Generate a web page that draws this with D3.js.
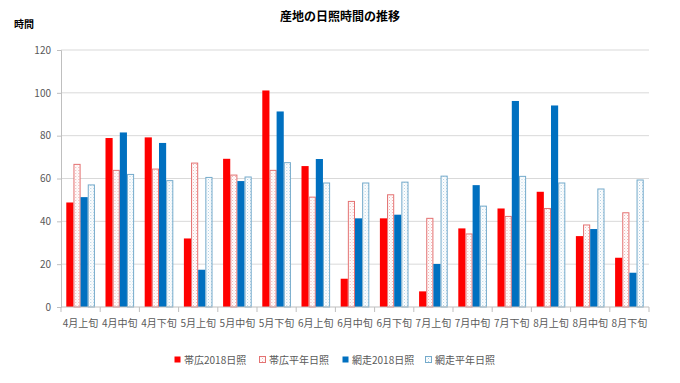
<!DOCTYPE html>
<html>
<head>
<meta charset="utf-8">
<script src="https://cdn.jsdelivr.net/npm/d3@7"></script>
<style>
  body { margin: 0; background: #fff; }
  text { font-family: "Noto Sans CJK JP", "Noto Sans", sans-serif; }
</style>
</head>
<body>
<div id="chart"></div>
<script>
var categories = ["4月上旬", "4月中旬", "4月下旬", "5月上旬", "5月中旬", "5月下旬", "6月上旬", "6月中旬",
    "6月下旬", "7月上旬", "7月中旬", "7月下旬", "8月上旬", "8月中旬", "8月下旬"];
var seriesNames = ["帯広2018日照", "帯広平年日照", "網走2018日照", "網走平年日照"];
var obihiro2018 = [48.8, 78.9, 79.2, 32.0, 69.2, 101.1, 65.8, 13.2, 41.4, 7.3, 36.7, 46.0, 53.8, 33.1, 23.0];
var obihiroAvg = [66.6, 63.8, 64.4, 67.2, 61.6, 63.8, 51.3, 49.3, 52.4, 41.4, 34.1, 42.3, 46.0, 38.3, 44.0];
var abashiri2018 = [51.3, 81.5, 76.6, 17.4, 58.8, 91.3, 69.1, 41.4, 43.1, 20.1, 56.9, 96.2, 94.1, 36.4, 16.0];
var abashiriAvg = [57.0, 61.9, 59.0, 60.5, 60.7, 67.4, 57.9, 57.9, 58.3, 61.1, 47.1, 61.0, 57.9, 55.1, 59.3];
var yTicks = [0, 20, 40, 60, 80, 100, 120];

var margin = {top: 50, right: 31, bottom: 76, left: 61};
var totalW = 680, totalH = 383;
var width = totalW - margin.left - margin.right,
    height = totalH - margin.top - margin.bottom;

var svgRoot = d3.select("#chart").append("svg")
    .attr("width", totalW)
    .attr("height", totalH);

// dotted fills for the average series
var defs = svgRoot.append("defs");
function dotPattern(id, color) {
    var p = defs.append("pattern")
        .attr("id", id)
        .attr("patternUnits", "userSpaceOnUse")
        .attr("width", 3).attr("height", 3);
    p.append("rect").attr("width", 3).attr("height", 3).attr("fill", "#fff");
    p.append("rect").attr("x", 0).attr("y", 0).attr("width", 1).attr("height", 1)
        .attr("fill", color).attr("opacity", 0.55);
    p.append("rect").attr("x", 1.5).attr("y", 1.5).attr("width", 1).attr("height", 1)
        .attr("fill", color).attr("opacity", 0.35);
}
dotPattern("dotRed", "#e07070");
dotPattern("dotBlue", "#6aa8cc");

var styles = [
    {fill: "#ff0000", stroke: "none"},
    {fill: "url(#dotRed)", stroke: "#e47272"},
    {fill: "#0070c0", stroke: "none"},
    {fill: "url(#dotBlue)", stroke: "#74aacb"}
];
var series = [obihiro2018, obihiroAvg, abashiri2018, abashiriAvg];

// title
svgRoot.append("text")
    .attr("x", totalW / 2)
    .attr("y", 21)
    .attr("text-anchor", "middle")
    .style("font-size", "12px")
    .style("font-weight", "bold")
    .attr("fill", "#000")
    .text("産地の日照時間の推移");

svgRoot.append("text")
    .attr("x", 14)
    .attr("y", 28)
    .style("font-size", "10px")
    .style("font-weight", "bold")
    .attr("fill", "#000")
    .text("時間");

var svg = svgRoot.append("g")
    .attr("transform", "translate(" + margin.left + "," + margin.top + ")");

var x0 = d3.scaleBand()
    .domain(categories)
    .range([0, width])
    .paddingInner(0.27)
    .paddingOuter(0.135);
var x1 = d3.scaleBand()
    .domain(d3.range(series.length))
    .range([0, x0.bandwidth()]);
var y = d3.scaleLinear()
    .domain([0, 120])
    .range([height, 0]);

// gridlines
svg.append("g")
    .selectAll("line")
    .data(yTicks.slice(1))
    .enter().append("line")
    .attr("x1", 0).attr("x2", width)
    .attr("y1", function(d) { return y(d); })
    .attr("y2", function(d) { return y(d); })
    .attr("stroke", "#d9d9d9")
    .attr("stroke-width", 1);

// y axis
var yAxis = svg.append("g")
    .call(d3.axisLeft(y).tickValues(yTicks).tickSize(4).tickPadding(6));
yAxis.select(".domain").attr("stroke", "#bfbfbf");
yAxis.selectAll(".tick line").attr("stroke", "#bfbfbf");
yAxis.selectAll("text")
    .attr("fill", "#595959")
    .style("font-size", "10px");

// bars
var groups = svg.append("g").selectAll("g")
    .data(categories)
    .enter().append("g")
    .attr("transform", function(d) { return "translate(" + x0(d) + ",0)"; });

groups.selectAll("rect")
    .data(function(d, i) { return series.map(function(s, k) { return {k: k, v: s[i]}; }); })
    .enter().append("rect")
    .attr("x", function(d) { return x1(d.k) + (styles[d.k].stroke === "none" ? 0 : 0.5); })
    .attr("y", function(d) { return y(d.v); })
    .attr("width", function(d) { return x1.bandwidth() - (styles[d.k].stroke === "none" ? 0 : 1); })
    .attr("height", function(d) { return y(0) - y(d.v); })
    .attr("fill", function(d) { return styles[d.k].fill; })
    .attr("stroke", function(d) { return styles[d.k].stroke; })
    .attr("stroke-width", 1);

// x axis: ticks at category boundaries
var xAxis = svg.append("g")
    .attr("transform", "translate(0," + height + ")");
xAxis.append("line")
    .attr("x1", 0).attr("x2", width)
    .attr("stroke", "#bfbfbf");
var step = x0.step();
xAxis.selectAll("line.tk")
    .data(d3.range(categories.length + 1))
    .enter().append("line")
    .attr("class", "tk")
    .attr("x1", function(i) { return i * step; })
    .attr("x2", function(i) { return i * step; })
    .attr("y1", 0).attr("y2", 5)
    .attr("stroke", "#bfbfbf");
xAxis.selectAll("text")
    .data(categories)
    .enter().append("text")
    .attr("x", function(d) { return x0(d) + x0.bandwidth() / 2; })
    .attr("y", 20)
    .attr("text-anchor", "middle")
    .attr("fill", "#595959")
    .style("font-size", "10px")
    .text(function(d) { return d; });

// legend
var legendX = [174, 259, 342, 425];
var legend = svgRoot.append("g").selectAll("g")
    .data(seriesNames)
    .enter().append("g")
    .attr("transform", function(d, i) { return "translate(" + legendX[i] + ",361)"; });
legend.append("rect")
    .attr("x", 0.5).attr("y", -4.5)
    .attr("width", 6).attr("height", 6)
    .attr("fill", function(d, i) { return styles[i].fill; })
    .attr("stroke", function(d, i) { return styles[i].stroke; });
legend.append("text")
    .attr("x", 10)
    .attr("y", 3)
    .attr("fill", "#595959")
    .style("font-size", "10px")
    .text(function(d) { return d; });
</script>
</body>
</html>
